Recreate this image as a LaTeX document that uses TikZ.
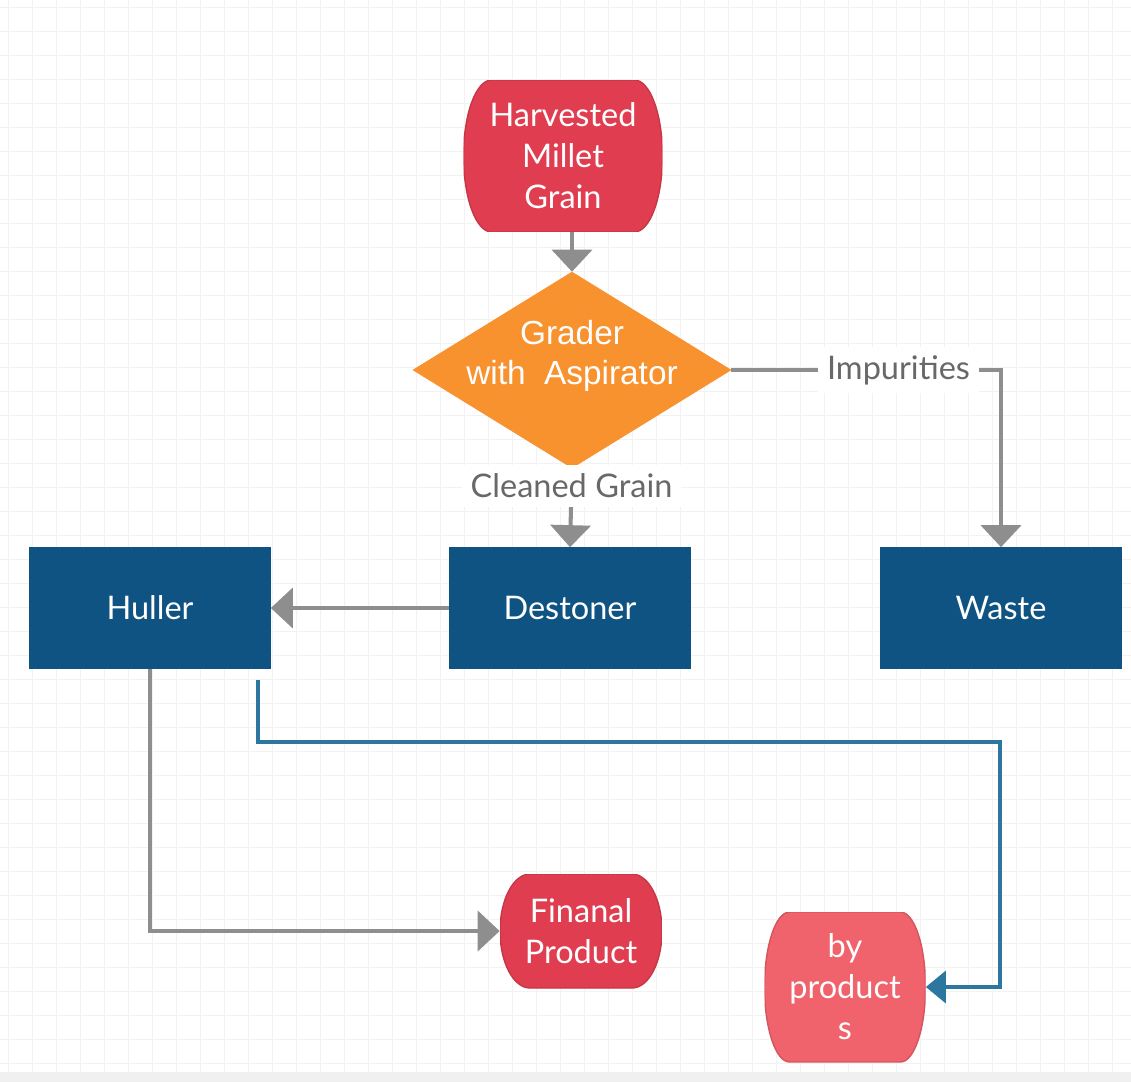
\documentclass[tikz,border=0pt]{standalone}
\usepackage{fontspec}
\setmainfont{Lato}
\newfontfamily\arialfont{Liberation Sans}
\usetikzlibrary{shapes.geometric,arrows.meta}
\definecolor{termred}{RGB}{224,62,80}
\definecolor{termpink}{RGB}{240,98,108}
\definecolor{gradorange}{RGB}{247,146,46}
\definecolor{boxblue}{RGB}{14,83,130}
\definecolor{flowgray}{RGB}{142,142,142}
\definecolor{flowblue}{RGB}{44,118,160}
\definecolor{lblgray}{RGB}{104,104,104}
\definecolor{gridgray}{RGB}{242,242,242}
\tikzset{
  terminal/.style n args={3}{rectangle, text=white, align=center, inner sep=0pt,
    font=\fontsize{18.5}{23.3}\selectfont,
    path picture={
      \filldraw[fill=#1, draw=#1!88!black, line width=0.8pt]
        ([xshift=#2]path picture bounding box.north west) -- ([xshift=-#2]path picture bounding box.north east)
        arc[start angle=90, end angle=-90, x radius=#2, y radius=#3]
        -- ([xshift=#2]path picture bounding box.south west)
        arc[start angle=270, end angle=90, x radius=#2, y radius=#3] -- cycle;}},
  process/.style={rectangle, fill=boxblue, draw=boxblue, text=white, inner sep=0pt,
    minimum width=4.82cm, minimum height=2.42cm, font=\fontsize{18.5}{23.3}\selectfont},
  decision/.style={diamond, fill=gradorange, draw=gradorange, inner sep=0pt,
    minimum width=6.36cm, minimum height=3.92cm},
  dtext/.style={text=white, align=center, font=\arialfont\fontsize{19}{23}\selectfont},
  lbl/.style={fill=white, text=lblgray, inner sep=5pt, font=\fontsize{18.5}{23.3}\selectfont},
  flow/.style={draw=flowgray, line width=2.3pt, -{Triangle[width=0.8cm,length=0.44cm]}},
  bflow/.style={draw=flowblue, line width=2pt, -{Triangle[width=0.64cm,length=0.4cm]}}
}
\begin{document}
\begin{tikzpicture}[x={(0.02cm,0)}, y={(0,-0.02cm)}]
\useasboundingbox (0,0) rectangle (1131,1082);
\fill[white] (0,0) rectangle (1131,1082);
% background grid
\foreach \gx in {8,32,...,1131} \draw[gridgray, line width=0.5pt] (\gx,0) -- (\gx,1072);
\foreach \gy in {7,31,...,1072} \draw[gridgray, line width=0.5pt] (0,\gy) -- (1131,\gy);
\fill[gray!12] (0,1072) rectangle (1131,1082);

\node[terminal={termred}{0.56cm}{1.52cm}, minimum width=3.98cm, minimum height=3.04cm] (harv) at (563,156) {Harvested\\Millet\\Grain};
\node[decision] (grader) at (572,370) {};
\node[dtext] (gradertext) at (572,356) {Grader\\with~~Aspirator};
\node[process] (destoner) at (570,608) {Destoner};
\node[process] (huller) at (150,608) {Huller};
\node[process] (waste) at (1001,608) {Waste};
\node[terminal={termred}{0.6cm}{1.14cm}, minimum width=3.24cm, minimum height=2.28cm] (final) at (581,931) {Finanal\\Product};
\node[terminal={termpink}{0.5cm}{1.5cm}, minimum width=3.22cm, minimum height=3.0cm] (byprod) at (845,987) {by\\product\\s};

\coordinate (hstart) at (258,680);
\coordinate (bturn) at (1000,742);

\draw[flow] (grader.north |- harv.south) -- (grader.north);
\draw[flow] (grader.south) -- node[lbl, pos=0.22] {Cleaned Grain} (destoner.north);
\draw[flow] (destoner.west) -- (huller.east);
\draw[flow] (grader.east) -- node[lbl, pos=0.62] {Impurities} (grader.east -| waste.north) -- (waste.north);
\draw[flow] (huller.south) |- (final.west);
\draw[bflow] (hstart) |- (bturn) |- (byprod.east);
\end{tikzpicture}
\end{document}
